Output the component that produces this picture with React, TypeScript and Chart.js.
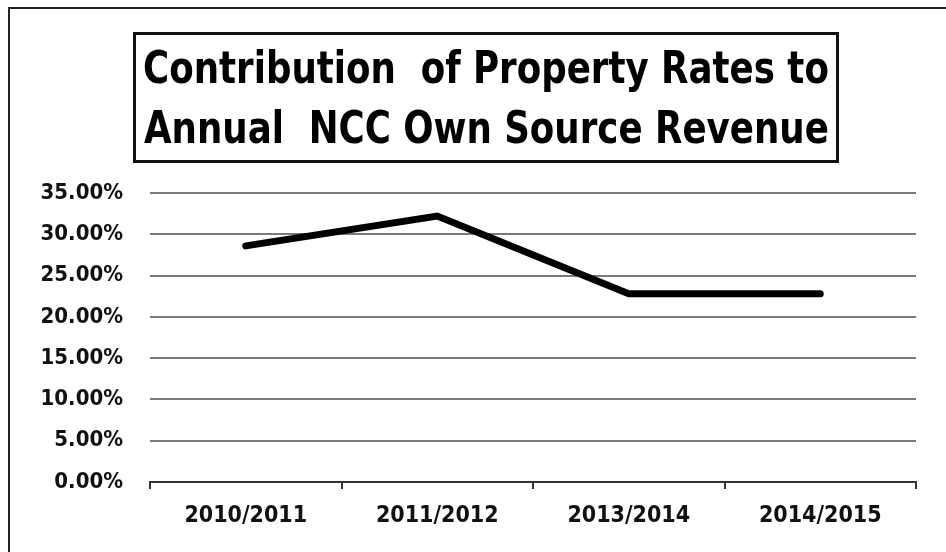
import React, { useEffect, useRef } from "react";
import { Chart, registerables } from "chart.js";

Chart.register(...registerables);

const categories = ["2010/2011", "2011/2012", "2013/2014", "2014/2015"];
const contribution = [28.6, 32.2, 22.8, 22.8];
const yTicks = [0, 5, 10, 15, 20, 25, 30, 35];
const titleLines = ["Contribution  of Property Rates to", "Annual  NCC Own Source Revenue"];

const FONT = "'Liberation Sans Narrow', 'DejaVu Sans Condensed', 'Liberation Sans', Arial, sans-serif";

export default function App() {
  const ref = useRef<HTMLCanvasElement | null>(null);

  useEffect(() => {
    document.body.style.margin = "0";
    const canvas = ref.current;
    if (!canvas) return;
    const chart = new Chart(canvas, {
      type: "line",
      data: {
        labels: categories,
        datasets: [
          {
            data: contribution,
            borderColor: "#000",
            borderWidth: 7,
            pointRadius: 0,
            tension: 0,
            borderCapStyle: "round",
            borderJoinStyle: "miter",
          },
        ],
      },
      options: {
        animation: false,
        responsive: false,
        maintainAspectRatio: false,
        layout: { padding: { left: 0, right: 30, top: 193, bottom: 0 } },
        plugins: { legend: { display: false }, title: { display: false }, tooltip: { enabled: false } },
        scales: {
          x: {
            type: "category",
            offset: true,
            grid: {
              offset: true,
              drawOnChartArea: false,
              drawTicks: true,
              tickLength: 7,
              color: "#333",
              lineWidth: 2,
            },
            border: { display: true, color: "#333", width: 2 },
            ticks: {
              color: "#111",
              font: { family: FONT, size: 23, weight: "bold" },
              padding: 13,
              maxRotation: 0,
            },
            afterFit: (s: any) => {
              s.height = 552 - 482;
            },
          },
          y: {
            min: 0,
            max: 35,
            afterBuildTicks: (s: any) => {
              s.ticks = yTicks.map((v) => ({ value: v }));
            },
            grid: { color: "#7a7a7a", lineWidth: 2, drawTicks: false },
            border: { display: false },
            ticks: {
              color: "#111",
              font: { family: FONT, size: 22, weight: "bold" },
              padding: 27,
              callback: (v: any) => Number(v).toFixed(2) + "%",
            },
            afterFit: (s: any) => {
              s.width = 150;
            },
          },
        },
      },
    });
    return () => chart.destroy();
  }, []);

  return (
    <div style={{ position: "relative", width: 946, height: 552, background: "#fff", overflow: "hidden" }}>
      <canvas ref={ref} width={946} height={552} style={{ position: "absolute", left: 0, top: 0 }} />
      <div
        style={{
          position: "absolute",
          left: 8,
          top: 7,
          width: 960,
          height: 570,
          border: "2px solid #222",
          boxSizing: "border-box",
          pointerEvents: "none",
        }}
      />
      <div
        style={{
          position: "absolute",
          left: 133,
          top: 32,
          width: 706,
          height: 131,
          border: "3px solid #111",
          boxSizing: "border-box",
          display: "flex",
          flexDirection: "column",
          justifyContent: "center",
          alignItems: "center",
          fontFamily: FONT,
          fontWeight: "bold",
          fontSize: 44,
          lineHeight: "60px",
          color: "#000",
          whiteSpace: "pre",
        }}
      >
        {titleLines.map((t, i) => (
          <div key={i} style={{ transform: "scaleX(0.9)", transformOrigin: "center" }}>
            {t}
          </div>
        ))}
      </div>
    </div>
  );
}
